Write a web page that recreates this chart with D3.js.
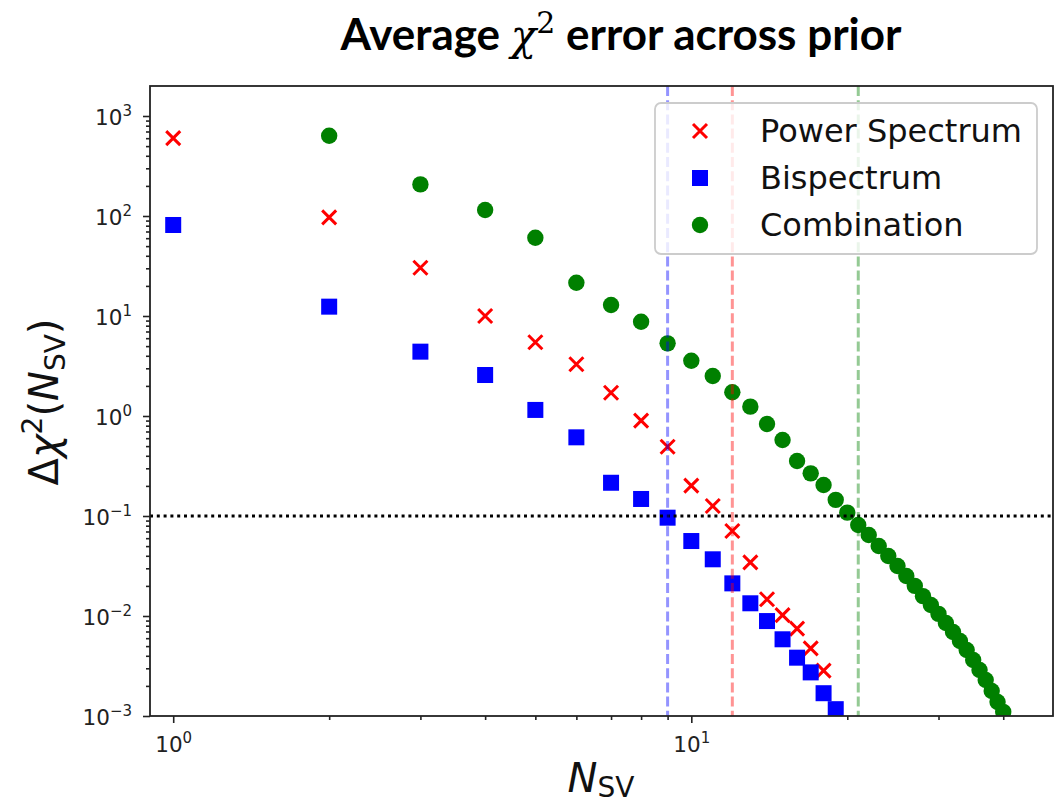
<!DOCTYPE html>
<html>
<head>
<meta charset="utf-8">
<script src="https://cdn.jsdelivr.net/npm/d3@7"></script>
<style>
  html, body { margin: 0; padding: 0; background: #fff; }
  svg { display: block; }
</style>
</head>
<body>
<svg id="chart" width="1056" height="806"></svg>
<script>
// Number of singular values kept, and the average chi-square error for each probe
const nPower = [1, 2, 3, 4, 5, 6, 7, 8, 9, 10, 11, 12, 13, 14, 15, 16, 17, 18];
const powerSpectrum = [600, 97, 30.4, 10.0, 5.46, 3.29, 1.71, 0.90, 0.493, 0.201, 0.126, 0.0708,
  0.0344, 0.0147, 0.0102, 0.00747, 0.00475, 0.00284];

const nBispec = [1, 2, 3, 4, 5, 6, 7, 8, 9, 10, 11, 12, 13, 14, 15, 16, 17, 18, 19];
const bispectrum = [81.3, 12.4, 4.4, 2.57, 1.15, 0.612, 0.215, 0.148, 0.0962, 0.0562, 0.0369,
  0.0212, 0.0134, 0.0089, 0.00585, 0.00383, 0.00273, 0.00169, 0.00117];

const nCombo = [2, 3, 4, 5, 6, 7, 8, 9, 10, 11, 12, 13, 14, 15, 16, 17, 18, 19, 20, 21,
  22, 23, 24, 25, 26, 27, 28, 29, 30, 31, 32, 33, 34, 35, 36, 37, 38, 39, 40];
const combination = [635, 207, 115, 60.7, 21.5, 12.9, 8.77, 5.33, 3.57, 2.51, 1.73, 1.24, 0.832,
  0.575, 0.355, 0.267, 0.204, 0.145, 0.108, 0.0813, 0.0646, 0.0501, 0.0398, 0.0316, 0.0251,
  0.0200, 0.0158, 0.0129, 0.0105, 0.00851, 0.00692, 0.00562, 0.00457, 0.00363, 0.00288,
  0.00229, 0.00178, 0.00138, 0.00110];

// Threshold and the N_SV where each probe first drops below it
const threshold = 0.1;
const cutPower = 12, cutBispec = 9, cutCombo = 21;

const xMajorTicks = [1, 10];
const yMajorTicks = [1e-3, 1e-2, 1e-1, 1e0, 1e1, 1e2, 1e3];
const legendLabels = ["Power Spectrum", "Bispectrum", "Combination"];

const RED = "#ff0000", BLUE = "#0000ff", GREEN = "#008000";

const svg = d3.select("#chart");
const L = 150, R = 1053, T = 86, B = 716;

const x = d3.scaleLog().domain([0.902, 49.9]).range([L, R]);
const y = d3.scaleLog().domain([1e-3, Math.pow(10, 3.3)]).range([B, T]);

svg.append("defs").append("clipPath").attr("id", "plotclip")
  .append("rect").attr("x", L).attr("y", T).attr("width", R - L).attr("height", B - T);

// Title
const title = svg.append("text")
  .attr("x", 621).attr("y", 50)
  .attr("text-anchor", "middle")
  .attr("font-family", "Lato, 'Open Sans', sans-serif")
  .attr("font-weight", "bold")
  .attr("font-size", 44)
  .attr("fill", "#000");
title.append("tspan").text("Average ");
title.append("tspan").attr("font-family", "'DejaVu Serif', serif").attr("font-style", "italic")
  .attr("font-weight", "normal").attr("font-size", 42).text("χ");
title.append("tspan").attr("font-family", "'DejaVu Serif', serif").attr("font-weight", "normal")
  .attr("font-size", 30).attr("dy", -17).text("2");
title.append("tspan").attr("dy", 17).text(" error across prior");

const plot = svg.append("g").attr("clip-path", "url(#plotclip)");

// Scatter markers
const crossPath = "M-7,-7L7,7M-7,7L7,-7";
plot.append("g").selectAll("path").data(nPower.map((n, i) => [n, powerSpectrum[i]]))
  .join("path")
  .attr("transform", d => `translate(${x(d[0])},${y(d[1])})`)
  .attr("d", crossPath)
  .attr("stroke", RED).attr("stroke-width", 3).attr("fill", "none");

plot.append("g").selectAll("rect").data(nBispec.map((n, i) => [n, bispectrum[i]]))
  .join("rect")
  .attr("x", d => x(d[0]) - 8).attr("y", d => y(d[1]) - 8)
  .attr("width", 16).attr("height", 16)
  .attr("fill", BLUE);

plot.append("g").selectAll("circle").data(nCombo.map((n, i) => [n, combination[i]]))
  .join("circle")
  .attr("cx", d => x(d[0])).attr("cy", d => y(d[1]))
  .attr("r", 8.2)
  .attr("fill", GREEN);

// Reference lines
plot.append("line")
  .attr("x1", L).attr("x2", R).attr("y1", y(threshold)).attr("y2", y(threshold))
  .attr("stroke", "#000").attr("stroke-width", 3)
  .attr("stroke-dasharray", "3,3.8");

[[cutBispec, BLUE], [cutPower, RED], [cutCombo, GREEN]].forEach(([n, c]) => {
  plot.append("line")
    .attr("x1", x(n)).attr("x2", x(n)).attr("y1", T).attr("y2", B)
    .attr("stroke", c).attr("stroke-opacity", 0.42).attr("stroke-width", 3)
    .attr("stroke-dasharray", "10,4.2");
});

// Axes
const tickColor = "#222";
function minorTicks(lo, hi) {
  const out = [];
  for (let e = lo; e < hi; e++) {
    for (let m = 2; m <= 9; m++) out.push(m * Math.pow(10, e));
  }
  return out;
}
const xMinor = minorTicks(-1, 2).filter(v => v >= x.domain()[0] && v <= x.domain()[1]);
const yMinor = minorTicks(-3, 4).filter(v => v >= y.domain()[0] && v <= y.domain()[1]);

const axisStyle = g => {
  g.select(".domain").remove();
  g.selectAll(".tick line").attr("stroke", tickColor).attr("stroke-width", 1.6);
};

svg.append("g").attr("transform", `translate(0,${B})`)
  .call(d3.axisBottom(x).tickValues(xMinor).tickSize(4).tickFormat(""))
  .call(axisStyle);
svg.append("g").attr("transform", `translate(${L},0)`)
  .call(d3.axisLeft(y).tickValues(yMinor).tickSize(4).tickFormat(""))
  .call(axisStyle);

const xAxis = svg.append("g").attr("transform", `translate(0,${B})`)
  .call(d3.axisBottom(x).tickValues(xMajorTicks).tickSize(7).tickFormat(""))
  .call(axisStyle);
const yAxis = svg.append("g").attr("transform", `translate(${L},0)`)
  .call(d3.axisLeft(y).tickValues(yMajorTicks).tickSize(7).tickFormat(""))
  .call(axisStyle);

function powLabel(sel, v) {
  const e = Math.round(Math.log10(v));
  sel.append("tspan").text("10");
  sel.append("tspan").attr("font-size", 15).attr("dy", -9).text(e < 0 ? "\u2212" + (-e) : String(e));
}
xAxis.selectAll(".tick").each(function(v) {
  const t = d3.select(this).append("text")
    .attr("x", 0).attr("y", 36)
    .attr("text-anchor", "middle")
    .attr("font-family", "'DejaVu Sans', sans-serif")
    .attr("font-size", 21.5).attr("fill", "#222");
  powLabel(t, v);
});
yAxis.selectAll(".tick").each(function(v) {
  const t = d3.select(this).append("text")
    .attr("x", -18).attr("y", 8)
    .attr("text-anchor", "end")
    .attr("font-family", "'DejaVu Sans', sans-serif")
    .attr("font-size", 21.5).attr("fill", "#222");
  powLabel(t, v);
});

// Frame
svg.append("rect")
  .attr("x", L).attr("y", T).attr("width", R - L).attr("height", B - T)
  .attr("fill", "none").attr("stroke", "#222").attr("stroke-width", 1.8);

// Axis labels
const xl = svg.append("text")
  .attr("x", 601).attr("y", 792)
  .attr("text-anchor", "middle")
  .attr("font-family", "'DejaVu Sans', sans-serif")
  .attr("font-size", 40).attr("fill", "#111");
xl.append("tspan").attr("font-style", "italic").text("N");
xl.append("tspan").attr("font-size", 28).attr("dy", 5).text("SV");

const yl = svg.append("text")
  .attr("transform", "translate(58,402) rotate(-90)")
  .attr("text-anchor", "middle")
  .attr("font-family", "'DejaVu Sans', sans-serif")
  .attr("font-size", 40).attr("fill", "#111");
yl.append("tspan").text("Δ");
yl.append("tspan").attr("font-style", "italic").text("χ");
yl.append("tspan").attr("font-size", 28).attr("dy", -16).text("2");
yl.append("tspan").attr("dy", 16).text("(");
yl.append("tspan").attr("font-style", "italic").text("N");
yl.append("tspan").attr("font-size", 28).attr("dy", 7).text("SV");
yl.append("tspan").attr("dy", -7).text(")");

// Legend
const lg = svg.append("g");
lg.append("rect")
  .attr("x", 655).attr("y", 103).attr("width", 382).attr("height", 151)
  .attr("rx", 6).attr("ry", 6)
  .attr("fill", "#fff").attr("fill-opacity", 0.8)
  .attr("stroke", "#cccccc").attr("stroke-width", 1.8);
const rowY = [131, 178, 225];
const lx = 700;
lg.append("path").attr("transform", `translate(${lx},${rowY[0]})`).attr("d", crossPath)
  .attr("stroke", RED).attr("stroke-width", 3).attr("fill", "none");
lg.append("rect").attr("x", lx - 8).attr("y", rowY[1] - 8).attr("width", 16).attr("height", 16)
  .attr("fill", BLUE);
lg.append("circle").attr("cx", lx).attr("cy", rowY[2]).attr("r", 8.2).attr("fill", GREEN);
lg.selectAll("text.lbl").data(legendLabels).join("text")
  .attr("class", "lbl")
  .attr("x", 760).attr("y", (d, i) => rowY[i] + 11)
  .attr("font-family", "'DejaVu Sans', sans-serif")
  .attr("font-size", 32).attr("fill", "#111")
  .text(d => d);
</script>
</body>
</html>
